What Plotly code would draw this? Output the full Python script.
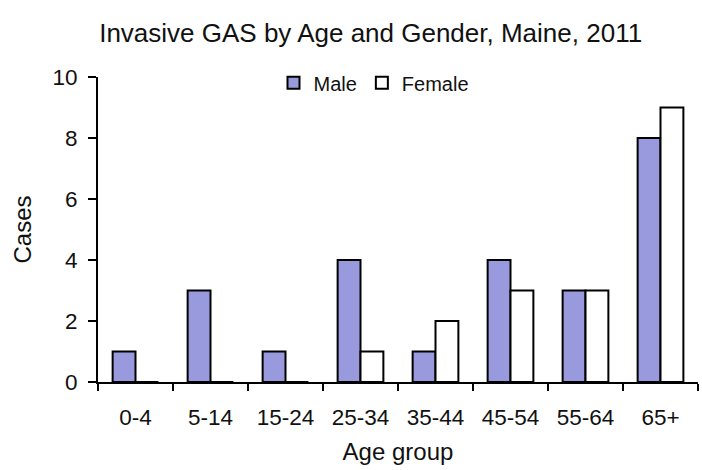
import plotly.graph_objects as go

age_groups = ["0-4", "5-14", "15-24", "25-34", "35-44", "45-54", "55-64", "65+"]
male_cases = [1, 3, 1, 4, 1, 4, 3, 8]
female_cases = [0, 0, 0, 1, 2, 3, 3, 9]
y_ticks = [0, 2, 4, 6, 8, 10]

fig = go.Figure()
fig.add_trace(go.Bar(name="Male", x=age_groups, y=male_cases,
                     marker=dict(color="#9999dd", line=dict(color="black", width=2))))
fig.add_trace(go.Bar(name="Female", x=age_groups, y=female_cases,
                     marker=dict(color="white", line=dict(color="black", width=2))))

font = "Liberation Sans, Arial, sans-serif"
fig.update_layout(
    width=702, height=470,
    margin=dict(l=98, r=4, t=77, b=88, autoexpand=False),
    paper_bgcolor="white", plot_bgcolor="white",
    font=dict(family=font, color="#111111", size=22),
    barmode="group", bargap=0.39, bargroupgap=0,
    title=dict(text="Invasive GAS by Age and Gender, Maine, 2011",
               x=0.528, xanchor="center", y=0.93, yanchor="middle",
               font=dict(size=26, family=font, color="#111111")),
    legend=dict(orientation="h", x=0.46, xanchor="center", y=1.045, yanchor="top",
                font=dict(size=20), bgcolor="rgba(0,0,0,0)",
                itemwidth=30, tracegroupgap=0),
    xaxis=dict(title=dict(text="Age group", font=dict(size=24), standoff=14),
               automargin=False,
               showline=True, linecolor="black", linewidth=2,
               ticks="outside", tickson="boundaries", ticklen=7, tickwidth=2,
               tickcolor="black", showgrid=False, tickfont=dict(size=22.5),
               ticklabelstandoff=14),
    yaxis=dict(title=dict(text="Cases", font=dict(size=24), standoff=14),
               automargin=False,
               range=[0, 10], tickvals=y_ticks,
               showline=True, linecolor="black", linewidth=2,
               ticks="outside", ticklen=8, tickwidth=2, tickcolor="black",
               showgrid=False, zeroline=False, tickfont=dict(size=22.5),
               ticklabelstandoff=6),
)

fig.write_html("out.html", config={"displayModeBar": False},
               post_script="document.body.style.margin='0';")
